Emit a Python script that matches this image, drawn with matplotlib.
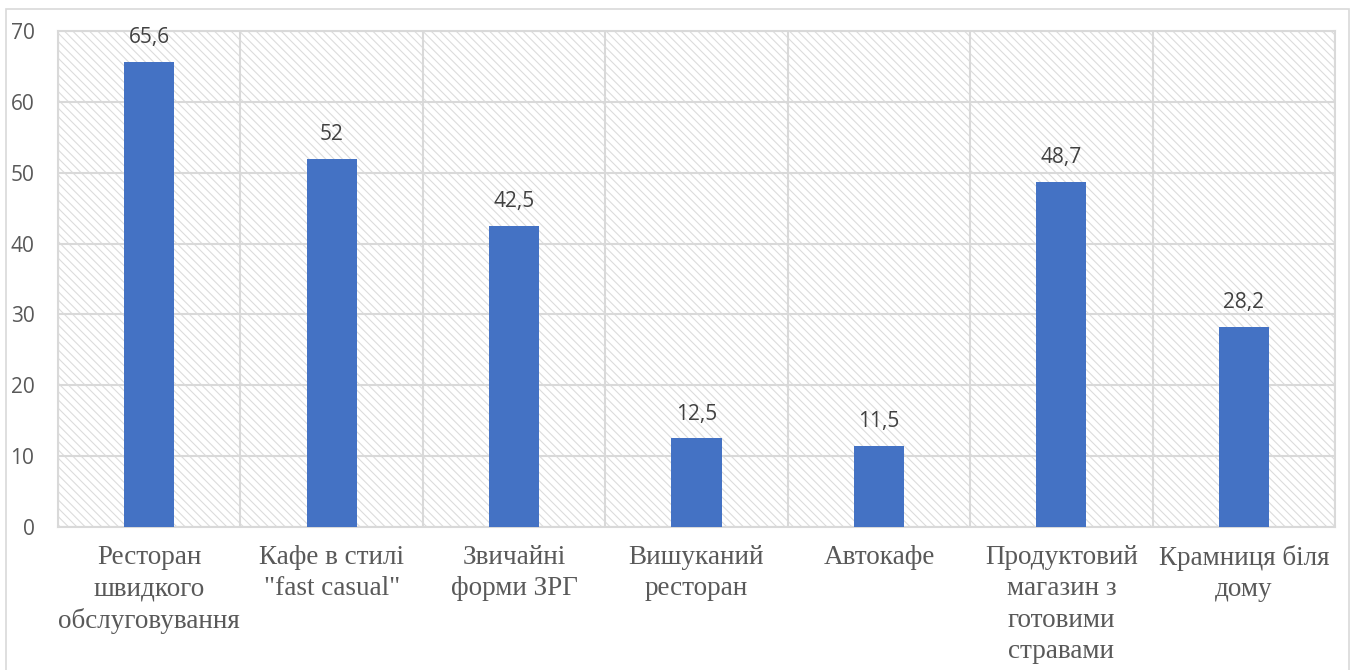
import matplotlib
matplotlib.use("Agg")
import matplotlib.pyplot as plt
from matplotlib.patches import Rectangle

categories = ["Ресторан\nшвидкого\nобслуговування", "Кафе в стилі\n\"fast casual\"",
              "Звичайні\nформи ЗРГ", "Вишуканий\nресторан", "Автокафе",
              "Продуктовий\nмагазин з\nготовими\nстравами", "Крамниця біля\nдому"]
values = [65.6, 52, 42.5, 12.5, 11.5, 48.7, 28.2]
value_labels = ["65,6", "52", "42,5", "12,5", "11,5", "48,7", "28,2"]
yticks = [0, 10, 20, 30, 40, 50, 60, 70]

plt.rcParams['hatch.linewidth'] = 0.8
plt.rcParams['hatch.color'] = '#dcdcdc'

W, H = 1352, 670
fig = plt.figure(figsize=(W/100, H/100), dpi=100)
fig.patches.append(Rectangle((6/W, -0.05), (1349-6)/W, 1.05 - 9/H, transform=fig.transFigure,
                             fill=False, edgecolor='#d9d9d9', linewidth=1.2))
ax = fig.add_axes([58/W, 1-527/H, (1335-58)/W, (527-31)/H])
ax.set_xlim(-0.5, len(categories)-0.5)
ax.set_ylim(0, 70)
ax.add_patch(Rectangle((0, 0), 1, 1, transform=ax.transAxes, facecolor='white',
                       edgecolor='#dcdcdc', hatch='\\\\\\\\', linewidth=0, zorder=0))
x = list(range(len(categories)))
ax.bar(x, values, width=0.275, color='#4472c4', zorder=3)
for xi, v, lab in zip(x, values, value_labels):
    ax.annotate(lab, (xi, v), xytext=(0, 10), textcoords='offset points', ha='center', va='bottom',
                fontsize=15, color='#404040', family='Open Sans')
ax.set_yticks(yticks)
ax.set_yticklabels([str(t) for t in yticks], fontsize=15, color='#595959', family='Open Sans')
ax.set_xticks([i + 0.5 for i in range(-1, len(categories))], minor=False)
ax.set_xticklabels([])
ax.tick_params(axis='both', length=0)
ax.tick_params(axis='y', pad=17)
ax.grid(True, color='#d9d9d9', linewidth=1.5, zorder=1)
ax.set_axisbelow(True)
for s in ax.spines.values():
    s.set_color('#d9d9d9')
    s.set_linewidth(1.5)
for xi, c in zip(x, categories):
    ax.text(xi, -0.037, c, transform=ax.get_xaxis_transform(), ha='center', va='top',
            fontsize=19.5, color='#595959', family='Liberation Serif', linespacing=1.32)
fig.savefig("out.png", dpi=100)
